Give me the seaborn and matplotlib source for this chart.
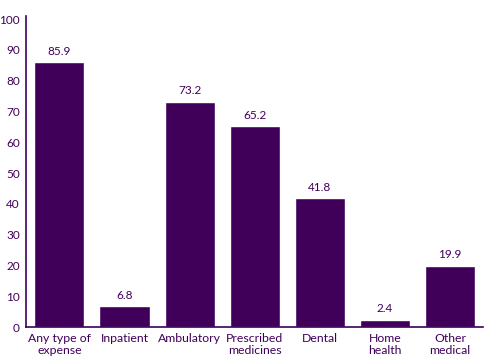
import matplotlib
matplotlib.use("Agg")
import matplotlib.pyplot as plt
import seaborn as sns
import pandas as pd

categories = ["Any type of\nexpense", "Inpatient", "Ambulatory", "Prescribed\nmedicines",
              "Dental", "Home\nhealth", "Other\nmedical"]
values = [85.9, 6.8, 73.2, 65.2, 41.8, 2.4, 19.9]
yticks = list(range(0, 101, 10))

sns.set_theme(style="white")
plt.rcParams['font.family'] = ['Lato', 'DejaVu Sans']

purple = "#40005a"
df = pd.DataFrame({"cat": categories, "val": values})

fig = plt.figure(figsize=(4.91, 3.63), dpi=100)
ax = fig.add_axes([0.052, 0.099, 0.932, 0.857])
sns.barplot(data=df, x="cat", y="val", color=purple, saturation=1, width=0.77, ax=ax)

for i, v in enumerate(values):
    ax.text(i, v + 1.8, f"{v}", ha="center", va="bottom", fontsize=8.5, color=purple)

ax.set_ylim(0, 101)
ax.set_xlim(-0.52, 6.51)
ax.set_yticks(yticks)
ax.set_xlabel("")
ax.set_ylabel("")
ax.tick_params(axis="both", length=0, labelsize=8.8, labelcolor=purple, pad=4)
ax.tick_params(axis="y", pad=4, labelsize=8.5)
for s in ["top", "right"]:
    ax.spines[s].set_visible(False)
for s in ["left", "bottom"]:
    ax.spines[s].set_color(purple)
    ax.spines[s].set_linewidth(1.2)
ax.grid(False)

fig.savefig("out.png", dpi=100)
